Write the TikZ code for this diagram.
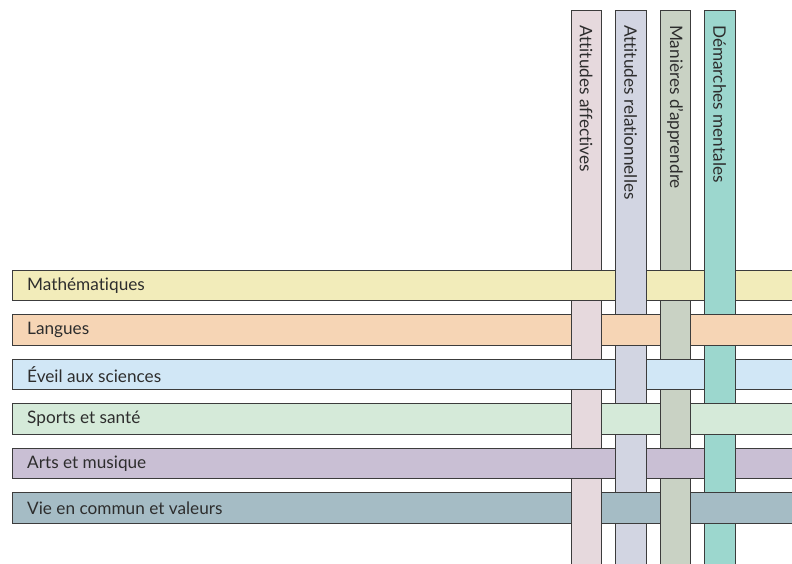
\documentclass[tikz,border=0pt]{standalone}
\usepackage{fontspec}
\setmainfont{Lato}[Ligatures={NoCommon,NoDiscretionary,NoRare}]
\usetikzlibrary{calc}
\definecolor{cMath}{RGB}{242,236,186}
\definecolor{cLang}{RGB}{246,213,181}
\definecolor{cEveil}{RGB}{209,231,246}
\definecolor{cSport}{RGB}{213,234,217}
\definecolor{cArts}{RGB}{201,191,212}
\definecolor{cVie}{RGB}{165,188,197}
\definecolor{vc0}{RGB}{230,217,221}
\definecolor{vc1}{RGB}{210,213,226}
\definecolor{vc2}{RGB}{201,210,196}
\definecolor{vc3}{RGB}{156,215,206}
\definecolor{edge}{RGB}{60,60,60}
\definecolor{txt}{RGB}{45,45,45}
\tikzset{
  bar/.style={draw=edge, line width=0.8pt, inner sep=0pt, outer sep=0pt, rectangle},
  vbar/.style={bar, minimum width=30.5pt, minimum height=570pt, anchor=north west},
  hbar/.style={bar, minimum width=800pt, minimum height=30.5pt, anchor=north west},
  lbl/.style={text=txt, font=\fontsize{17.2}{19}\selectfont, inner sep=0pt},
}
\begin{document}
\begin{tikzpicture}[x=1pt,y=-1pt]
\useasboundingbox (0,0) rectangle (792,563);
\clip (0,0) rectangle (792,563);
% vertical bars
\node[vbar, fill=vc0] (v0) at (571,10) {};
\node[vbar, fill=vc1] (v1) at (615.5,10) {};
\node[vbar, fill=vc2] (v2) at (660,10) {};
\node[vbar, fill=vc3] (v3) at (704.5,10) {};
\node[lbl, rotate=-90, anchor=west] (t0) at (586.25,25) {Attitudes affectives};
\node[lbl, rotate=-90, anchor=west] (t1) at (630.75,25) {Attitudes relationnelles};
\node[lbl, rotate=-90, anchor=west] (t2) at (675.25,25) {Manières d’apprendre};
\node[lbl, rotate=-90, anchor=west] (t3) at (719.75,25) {Démarches mentales};
% horizontal bars
\node[hbar, fill=cMath]  (h0) at (12,270) {};
\node[hbar, fill=cLang]  (h1) at (12,314.5) {};
\node[hbar, fill=cEveil] (h2) at (12,359) {};
\node[hbar, fill=cSport] (h3) at (12,403.5) {};
\node[hbar, fill=cArts]  (h4) at (12,448) {};
\node[hbar, fill=cVie]   (h5) at (12,492.5) {};
\node[lbl, anchor=west] (l0) at ($(h0.west)+(15pt,0pt)$) {Mathématiques};
\node[lbl, anchor=west] (l1) at ($(h1.west)+(15pt,0pt)$) {Langues};
\node[lbl, anchor=west] (l2) at ($(h2.west)+(15pt,0pt)$) {Éveil aux sciences};
\node[lbl, anchor=west] (l3) at ($(h3.west)+(15pt,0pt)$) {Sports et santé};
\node[lbl, anchor=west] (l4) at ($(h4.west)+(15pt,0pt)$) {Arts et musique};
\node[lbl, anchor=west] (l5) at ($(h5.west)+(15pt,0pt)$) {Vie en commun et valeurs};
% weave: vertical over horizontal where i+j is odd
\foreach \i in {0,...,3}{
  \foreach \j in {0,...,5}{
    \pgfmathtruncatemacro{\odd}{mod(\i+\j,2)}
    \ifnum\odd=1
      \fill[vc\i] ($(v\i.west |- h\j.north)+(0pt,1pt)$) rectangle ($(v\i.east |- h\j.south)+(0pt,-1pt)$);
      \draw[draw=edge, line width=0.8pt] ($(v\i.west |- h\j.north)+(0pt,1pt)$) -- ($(v\i.west |- h\j.south)+(0pt,-1pt)$);
      \draw[draw=edge, line width=0.8pt] ($(v\i.east |- h\j.north)+(0pt,1pt)$) -- ($(v\i.east |- h\j.south)+(0pt,-1pt)$);
    \fi
  }
}
\end{tikzpicture}
\end{document}
